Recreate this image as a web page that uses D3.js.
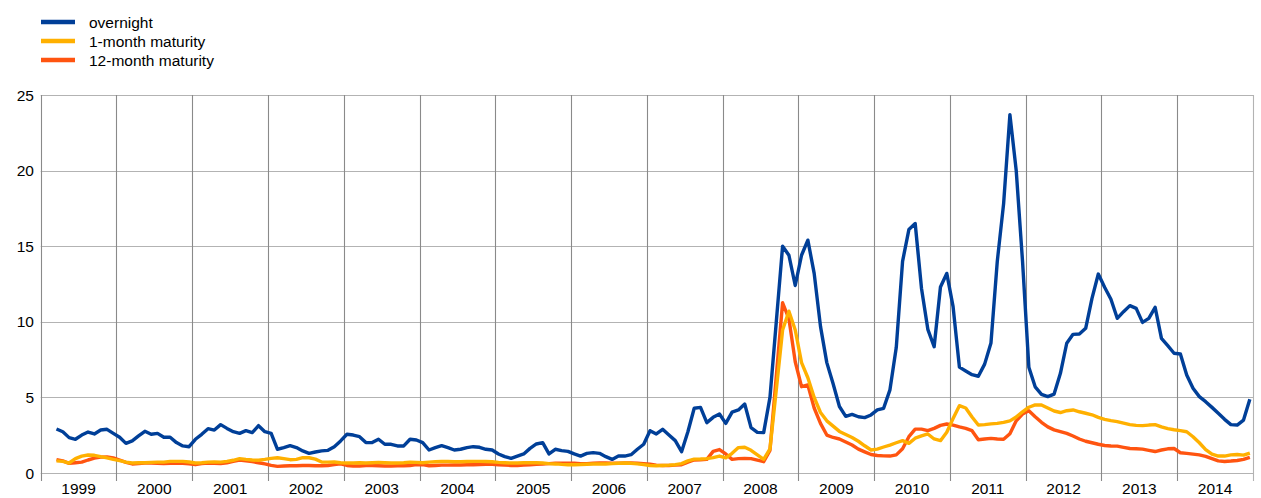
<!DOCTYPE html>
<html>
<head>
<meta charset="utf-8">
<script src="https://cdn.jsdelivr.net/npm/d3@7"></script>
<style>
  body { margin: 0; background: #fff; }
  text { font-family: "Liberation Sans", Arial, sans-serif; fill: #000; }
</style>
</head>
<body>
<div id="chart"></div>
<script>
var w = 1261, h = 498;

// Year tick labels (one band per year)
var years = ["1999", "2000", "2001", "2002", "2003", "2004", "2005", "2006",
             "2007", "2008", "2009", "2010", "2011", "2012", "2013", "2014"];
var yTicks = [0, 5, 10, 15, 20, 25];

// Series names
var seriesNames = ["overnight", "1-month maturity", "12-month maturity"];
var seriesColors = ["#003f98", "#ffb000", "#ff5410"];

// Monthly values, March 1999 .. December 2014
var firstMonth = 2; // months after Jan 1999

var overnight = [
  2.91, 2.73, 2.34, 2.23, 2.51, 2.71, 2.58, 2.84, 2.89, 2.62,
  2.36, 1.96, 2.12, 2.45, 2.76, 2.56, 2.62, 2.36, 2.36, 2.01, 1.79, 1.74,
  2.23, 2.56, 2.93, 2.84, 3.20, 2.95, 2.73, 2.62, 2.80, 2.67, 3.13, 2.73,
  2.62, 1.57, 1.68, 1.81, 1.68, 1.46, 1.30, 1.39, 1.46, 1.50, 1.74, 2.12,
  2.56, 2.51, 2.40, 2.01, 2.01, 2.23, 1.90, 1.90, 1.79, 1.79, 2.23, 2.18,
  2.01, 1.52, 1.68, 1.81, 1.68, 1.52, 1.57, 1.68, 1.74, 1.70, 1.57, 1.52,
  1.26, 1.08, 0.97, 1.12, 1.26, 1.63, 1.92, 2.01, 1.26, 1.57, 1.48, 1.43,
  1.26, 1.12, 1.30, 1.35, 1.30, 1.08, 0.90, 1.12, 1.12, 1.21, 1.57, 1.90,
  2.80, 2.58, 2.89, 2.51, 2.14, 1.41, 2.73, 4.28, 4.34, 3.33, 3.68, 3.90,
  3.28, 4.03, 4.17, 4.56, 3.00, 2.69, 2.67, 5.0, 10.0, 15.0, 14.4, 12.4,
  14.4, 15.4, 13.2, 9.7, 7.3, 5.9, 4.4, 3.75, 3.88, 3.72, 3.66, 3.84,
  4.17, 4.28, 5.5, 8.3, 14.0, 16.1, 16.5, 12.2, 9.5, 8.35, 12.3, 13.2,
  11.0, 7.0, 6.75, 6.5, 6.4, 7.2, 8.6, 14.0, 17.8, 23.7, 20.0, 14.0,
  7.0, 5.7, 5.2, 5.05, 5.22, 6.59, 8.58, 9.17, 9.19, 9.57, 11.55, 13.16,
  12.28, 11.49, 10.23, 10.67, 11.07, 10.89, 9.96, 10.23, 10.96, 8.9, 8.42, 7.92,
  7.87, 6.48, 5.6, 5.05, 4.72, 4.34, 3.95, 3.55, 3.2, 3.17, 3.5, 4.87
];

var oneMonth = [
  0.80, 0.77, 0.66, 0.95, 1.12, 1.19, 1.17, 1.08, 1.00, 0.90,
  0.82, 0.72, 0.66, 0.68, 0.68, 0.70, 0.72, 0.72, 0.77, 0.77, 0.77, 0.73,
  0.66, 0.68, 0.72, 0.73, 0.72, 0.77, 0.84, 0.95, 0.90, 0.86, 0.84, 0.90,
  0.97, 1.01, 0.95, 0.88, 0.90, 1.01, 1.01, 0.92, 0.73, 0.72, 0.73, 0.68,
  0.66, 0.66, 0.68, 0.66, 0.68, 0.70, 0.68, 0.66, 0.66, 0.68, 0.72, 0.70,
  0.68, 0.72, 0.74, 0.76, 0.76, 0.74, 0.74, 0.76, 0.77, 0.77, 0.76, 0.74,
  0.70, 0.68, 0.66, 0.66, 0.68, 0.68, 0.68, 0.66, 0.62, 0.60, 0.57, 0.55,
  0.55, 0.56, 0.58, 0.60, 0.60, 0.60, 0.62, 0.64, 0.66, 0.64, 0.60, 0.55,
  0.50, 0.48, 0.50, 0.52, 0.55, 0.62, 0.80, 0.92, 0.93, 0.95, 1.02, 1.12,
  1.00, 1.30, 1.68, 1.70, 1.50, 1.20, 0.90, 1.60, 5.5, 9.46, 10.7, 9.46,
  7.3, 6.3, 5.0, 4.0, 3.45, 3.1, 2.75, 2.55, 2.35, 2.1, 1.8, 1.52,
  1.58, 1.72, 1.85, 2.0, 2.14, 1.96, 2.3, 2.45, 2.58, 2.25, 2.14, 2.7,
  3.6, 4.45, 4.3, 3.7, 3.17, 3.2, 3.25, 3.28, 3.35, 3.45, 3.7, 4.05,
  4.35, 4.5, 4.5, 4.3, 4.1, 4.0, 4.12, 4.17, 4.05, 3.95, 3.85, 3.68,
  3.55, 3.46, 3.4, 3.3, 3.2, 3.15, 3.13, 3.17, 3.2, 3.05, 2.93, 2.86,
  2.8, 2.73, 2.4, 2.0, 1.55, 1.25, 1.12, 1.12, 1.2, 1.22, 1.18, 1.32
];

var twelveMonth = [
  0.88, 0.80, 0.64, 0.68, 0.72, 0.86, 0.98, 1.05, 1.06, 1.00,
  0.86, 0.70, 0.60, 0.62, 0.66, 0.66, 0.64, 0.62, 0.64, 0.66, 0.64, 0.60,
  0.55, 0.62, 0.66, 0.64, 0.62, 0.68, 0.77, 0.86, 0.80, 0.75, 0.68, 0.60,
  0.50, 0.44, 0.46, 0.48, 0.48, 0.50, 0.50, 0.48, 0.48, 0.50, 0.55, 0.60,
  0.50, 0.46, 0.46, 0.50, 0.50, 0.48, 0.46, 0.46, 0.48, 0.48, 0.50, 0.55,
  0.55, 0.48, 0.50, 0.52, 0.52, 0.53, 0.53, 0.55, 0.55, 0.56, 0.57, 0.57,
  0.55, 0.52, 0.50, 0.50, 0.52, 0.55, 0.58, 0.60, 0.62, 0.64, 0.64, 0.64,
  0.64, 0.62, 0.62, 0.64, 0.66, 0.66, 0.64, 0.64, 0.66, 0.66, 0.64, 0.62,
  0.58, 0.52, 0.50, 0.50, 0.52, 0.55, 0.72, 0.86, 0.88, 0.90, 1.43, 1.55,
  1.26, 0.90, 0.95, 0.97, 0.95, 0.85, 0.75, 1.5, 6.4, 11.26, 10.2, 7.36,
  5.71, 5.82, 4.3, 3.28, 2.51, 2.35, 2.25, 2.05, 1.85, 1.58, 1.4, 1.22,
  1.16, 1.13, 1.12, 1.2, 1.6, 2.4, 2.9, 2.9, 2.8, 2.95, 3.15, 3.24,
  3.17, 3.05, 2.95, 2.8, 2.2, 2.25, 2.29, 2.25, 2.23, 2.6, 3.45, 3.9,
  4.12, 3.72, 3.35, 3.05, 2.85, 2.73, 2.62, 2.45, 2.25, 2.1, 2.0, 1.9,
  1.82, 1.79, 1.78, 1.7, 1.62, 1.6, 1.58, 1.5, 1.42, 1.52, 1.6, 1.62,
  1.34, 1.3, 1.25, 1.2, 1.1, 0.95, 0.8, 0.76, 0.79, 0.83, 0.9, 1.04
];

// Plot area edges
var plotLeft = 40.7, plotRight = 1253, plotTop = 95, plotBottom = 473;

// Scales: x in months since Jan 1999
var x = d3.scaleLinear()
  .domain([0, years.length * 12])
  .range([plotLeft, plotRight]);

var y = d3.scaleLinear()
  .domain([0, 25])
  .range([plotBottom, plotTop]);

var svg = d3.select("#chart")
  .append("svg")
  .attr("width", w)
  .attr("height", h);

// Horizontal gridlines
svg.append("g")
  .selectAll("line")
  .data(yTicks)
  .enter()
  .append("line")
  .attr("x1", plotLeft)
  .attr("x2", plotRight)
  .attr("y1", function(d) { return Math.round(y(d)) + 0.5; })
  .attr("y2", function(d) { return Math.round(y(d)) + 0.5; })
  .attr("stroke", "#b3b3b3")
  .attr("stroke-width", 1.2);

// Vertical year gridlines (extending below axis as ticks)
var yearEdges = d3.range(years.length + 1);
svg.append("g")
  .selectAll("line")
  .data(yearEdges)
  .enter()
  .append("line")
  .attr("x1", function(d) { return Math.round(x(d * 12)) + 0.5; })
  .attr("x2", function(d) { return Math.round(x(d * 12)) + 0.5; })
  .attr("y1", plotTop)
  .attr("y2", plotBottom + 8)
  .attr("stroke", function(d) { return d === years.length ? "#b3b3b3" : "#8a8a8a"; })
  .attr("stroke-width", 1.1);

// Y tick labels
svg.append("g")
  .selectAll("text")
  .data(yTicks)
  .enter()
  .append("text")
  .attr("x", 34)
  .attr("y", function(d) { return y(d); })
  .attr("dy", "0.36em")
  .attr("text-anchor", "end")
  .style("font-size", "15.5px")
  .text(function(d) { return d; });

// Year labels centred in each band
svg.append("g")
  .selectAll("text")
  .data(years)
  .enter()
  .append("text")
  .attr("x", function(d, i) { return x(i * 12 + 6); })
  .attr("y", 494)
  .attr("text-anchor", "middle")
  .style("font-size", "15.5px")
  .text(function(d) { return d; });

// Lines
var line = d3.line()
  .x(function(d, i) { return x(firstMonth + i + 0.5); })
  .y(function(d) { return y(d); });

var drawOrder = [
  { values: twelveMonth, color: seriesColors[2] },
  { values: oneMonth, color: seriesColors[1] },
  { values: overnight, color: seriesColors[0] }
];

svg.append("g")
  .selectAll("path")
  .data(drawOrder)
  .enter()
  .append("path")
  .attr("d", function(d) { return line(d.values); })
  .attr("fill", "none")
  .attr("stroke", function(d) { return d.color; })
  .attr("stroke-width", 3.4)
  .attr("stroke-linejoin", "round");

// Legend
var legend = svg.append("g")
  .selectAll("g")
  .data(seriesNames)
  .enter()
  .append("g")
  .attr("transform", function(d, i) { return "translate(0," + (22 + i * 19) + ")"; });

legend.append("line")
  .attr("x1", 41)
  .attr("x2", 75)
  .attr("stroke", function(d, i) { return seriesColors[i]; })
  .attr("stroke-width", 4.5);

legend.append("text")
  .attr("x", 89)
  .attr("dy", "0.36em")
  .style("font-size", "15.5px")
  .text(function(d) { return d; });
</script>
</body>
</html>
